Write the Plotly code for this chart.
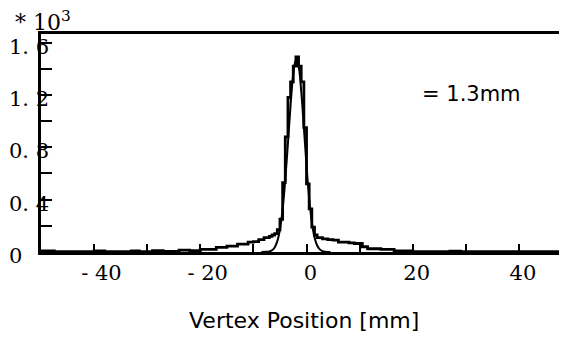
import plotly.graph_objects as go

# Histogram: bin edges (mm) and counts; the last edge closes the final bin
bin_edges = [-50, -47.5, -40, -38, -33, -31.5, -29, -27, -24, -22, -20, -17, -15, -13, -11,
             -10, -9, -8, -7, -6.5, -6, -5.5, -5, -4.5, -4, -3.5, -3, -2.5, -2, -1.5, -1,
             -0.5, 0, 0.5, 1, 1.5, 2, 3, 4, 5, 6, 7, 8, 9, 10.5, 11.5, 14, 16.5, 20, 27, 29, 49.05]
counts = [8, 3, 8, 3, 8, 3, 10, 5, 15, 10, 20, 35, 45, 60, 75,
          80, 95, 110, 120, 130, 140, 170, 250, 530, 880, 1180, 1300, 1420, 1490, 1420, 1300,
          950, 520, 330, 190, 130, 110, 100, 95, 90, 75, 75, 70, 65, 40, 25, 20, 8, 3, 6, 3]

# Gaussian fit curve
fit_x = [-8.5, -7.5, -7.0, -6.5, -6.0, -5.5, -5.0, -4.5, -4.0, -3.5, -3.0, -2.5, -2.0, -1.5,
         -1.0, -0.5, 0.0, 0.5, 1.0, 1.5, 2.0, 2.5, 3.0, 3.5, 4.5]
fit_y = [0, 1.4, 4.5, 13, 35, 83, 174, 327, 551, 832, 1123, 1357, 1467, 1419,
         1228, 951, 659, 409, 227, 113, 50, 20, 7, 2, 0]

x_tickvals = [-40, -20, 0, 20, 40]
x_ticktext = ["\u00a0- 40", "\u00a0- 20", "0", "20", "40"]
x_minor_vals = [-30, -10, 10, 30]
y_tickvals = [200, 400, 600, 800, 1000, 1200, 1400, 1600]
y_label_vals = [0, 400, 800, 1200, 1600]
y_label_text = ["0", "0. 4", "0. 8", "1. 2", "1. 6"]

step_x = bin_edges
step_y = counts + [counts[-1]]

fig = go.Figure()
fig.add_trace(go.Scatter(x=fit_x, y=fit_y, mode="lines", line=dict(color="black", width=2, shape="spline"),
                         showlegend=False, hoverinfo="skip"))
fig.add_trace(go.Scatter(x=step_x, y=step_y, mode="lines", line=dict(color="black", width=2.8, shape="hv"),
                         showlegend=False, hoverinfo="skip"))

serif = "DejaVu Serif"
sans = "DejaVu Sans"

annotations = []
for v, t in zip(y_label_vals, y_label_text):
    annotations.append(dict(x=0, xref="paper", y=v, yref="y", text=t, showarrow=False,
                            xanchor="left", yanchor="middle", xshift=-34, yshift=-4,
                            font=dict(family=serif, size=21, color="black")))
annotations.append(dict(x=0, xref="paper", y=1, yref="paper", text="* 10<sup>3</sup>", showarrow=False,
                        xanchor="left", yanchor="bottom", xshift=-28, yshift=-3,
                        font=dict(family=serif, size=22, color="black")))
annotations.append(dict(x=0.8175, xref="paper", y=0.727, yref="paper", text="= 1.3mm", showarrow=False,
                        xanchor="center", yanchor="middle",
                        font=dict(family=sans, size=21, color="black")))
annotations.append(dict(x=0.5, xref="paper", y=0, yref="paper", text="Vertex Position [mm]", showarrow=False,
                        xanchor="center", yanchor="middle", yshift=-68,
                        font=dict(family=sans, size=22, color="black")))

fig.update_layout(
    width=559, height=335,
    margin=dict(l=33, r=0, t=26, b=91),
    paper_bgcolor="white", plot_bgcolor="white",
    annotations=annotations,
    xaxis=dict(range=[-50, 49.05], tickvals=x_tickvals, ticktext=x_ticktext,
               ticks="inside", ticklen=8, tickwidth=2, tickcolor="black", ticklabelshift=4,
               minor=dict(tickvals=x_minor_vals, ticks="inside", ticklen=8, tickwidth=2, tickcolor="black"),
               showline=True, linewidth=3, linecolor="black", mirror=True,
               showgrid=False, zeroline=False,
               tickfont=dict(family=serif, size=21, color="black")),
    yaxis=dict(range=[0, 1665], tickvals=y_tickvals, showticklabels=False,
               ticks="inside", ticklen=11, tickwidth=2, tickcolor="black",
               showline=True, linewidth=3, linecolor="black",
               showgrid=False, zeroline=False),
)

fig.write_html("out.html")
